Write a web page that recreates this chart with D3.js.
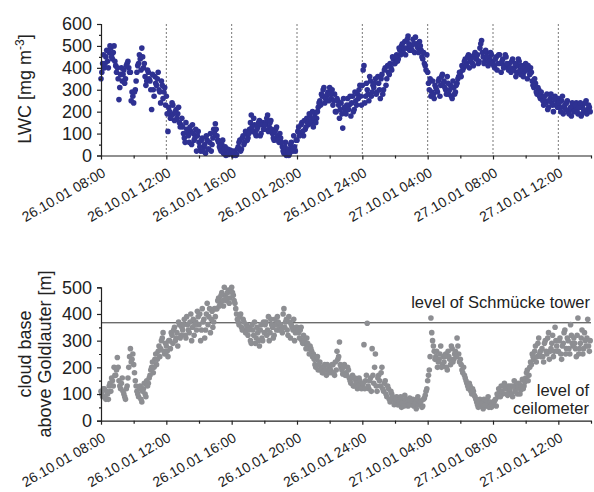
<!DOCTYPE html>
<html lang="en">
<head>
<meta charset="UTF-8">
<title>LWC and cloud base, 26.-27.10.01</title>
<script src="https://d3js.org/d3.v7.min.js"></script>
<style>
  body { margin: 0; background: #fff; }
  svg { font-family: "Liberation Sans", Arial, sans-serif; }
  .axis path, .axis line { stroke: #222; stroke-width: 1.2; }
  .axis text { fill: #222; }
  .ytick text { font-size: 18px; }
  .xtick text { font-size: 14px; }
  .title { font-size: 18px; fill: #222; }
  .note { font-size: 16.5px; fill: #222; }
</style>
</head>
<body>
<svg id="chart" width="594" height="492"></svg>
<script>
// each row holds one hour; set A sampled at :00, :06, ... and set B three minutes later
const sampleHours = [8, 9, 10, 11, 12, 13, 14, 15, 16, 17, 18, 19, 20, 21, 22,
                     23, 24, 25, 26, 27, 28, 29, 30, 31, 32, 33, 34, 35, 36, 37];

// liquid water content [mg m-3]
const lwcRowsA = [
  [350, 420, 400, 450, 430, 470, 490, 440, 500, 410],
  [400, 255, 370, 340, 390, 350, 420, 400, 380, 290],
  [240, 300, 380, 420, 440, 490, 400, 360, 340, 380],
  [340, 210, 300, 360, 320, 380, 290, 340, 260, 310],
  [270, 110, 200, 180, 230, 160, 210, 190, 150, 140],
  [130, 80, 150, 100, 60, 110, 140, 70, 120, 90],
  [60, 20, 80, 40, 10, 70, 30, 100, 50, 120],
  [145, 90, 60, 30, 50, 10, 40, 20, 5, 25],
  [10, 0, 20, 5, 40, 70, 30, 90, 60, 100],
  [80, 120, 185, 110, 140, 90, 130, 160, 100, 150],
  [120, 150, 185, 130, 160, 100, 70, 120, 90, 60],
  [80, 40, 10, 60, 20, 0, 50, 30, 90, 20],
  [70, 130, 100, 150, 90, 120, 170, 140, 180, 150],
  [130, 190, 170, 220, 250, 280, 300, 240, 270, 290],
  [310, 260, 230, 280, 200, 250, 170, 240, 125, 220],
  [190, 260, 230, 180, 270, 210, 250, 280, 300, 270],
  [320, 410, 270, 300, 250, 340, 290, 310, 350, 290],
  [330, 260, 370, 300, 400, 350, 380, 420, 390, 440],
  [420, 460, 440, 480, 500, 470, 520, 490, 545, 480],
  [500, 530, 470, 510, 490, 520, 480, 440, 420, 390],
  [380, 300, 270, 340, 260, 310, 290, 350, 320, 370],
  [340, 300, 360, 280, 320, 260, 310, 290, 330, 360],
  [380, 410, 400, 440, 420, 460, 430, 450, 410, 470],
  [440, 420, 490, 525, 450, 430, 470, 410, 440, 460],
  [430, 400, 450, 420, 460, 380, 440, 410, 450, 400],
  [420, 380, 440, 400, 360, 410, 430, 370, 400, 380],
  [420, 350, 390, 400, 340, 310, 330, 280, 300, 260],
  [270, 230, 250, 280, 220, 260, 240, 200, 270, 250],
  [260, 220, 250, 190, 230, 240, 200, 210, 180, 230],
  [210, 240, 190, 220, 180, 230, 200, 250, 210, 220]
];
const lwcRowsB = [
  [380, 460, 420, 480, 400, 500, 450, 470, 430, 380],
  [350, 310, 400, 370, 330, 410, 430, 380, 250, 270],
  [290, 340, 410, 460, 390, 450, 420, 320, 390, 350],
  [300, 370, 270, 330, 350, 300, 240, 320, 290, 230],
  [190, 220, 170, 240, 190, 200, 170, 220, 130, 170],
  [100, 60, 120, 90, 130, 50, 100, 80, 20, 110],
  [40, 70, 20, 50, 90, 30, 60, 20, 80, 100],
  [120, 70, 40, 20, 70, 30, 0, 30, 15, 10],
  [20, 10, 0, 30, 60, 20, 80, 50, 110, 70],
  [100, 150, 130, 170, 100, 120, 150, 90, 140, 120],
  [140, 170, 110, 150, 120, 80, 110, 130, 70, 100],
  [60, 20, 40, 0, 30, 10, 60, 20, 40, 70],
  [110, 90, 140, 110, 160, 130, 150, 190, 160, 200],
  [170, 150, 200, 240, 230, 270, 310, 260, 280, 250],
  [280, 300, 250, 200, 260, 230, 210, 190, 260, 200],
  [230, 210, 270, 240, 200, 290, 230, 260, 320, 230],
  [390, 240, 330, 280, 360, 270, 320, 330, 280, 360],
  [300, 350, 280, 390, 320, 410, 370, 400, 450, 420],
  [450, 430, 490, 460, 510, 490, 460, 530, 510, 500],
  [480, 510, 540, 500, 470, 500, 450, 470, 410, 460],
  [330, 350, 290, 280, 320, 300, 340, 270, 360, 330],
  [310, 280, 330, 300, 270, 340, 280, 320, 350, 380],
  [360, 390, 430, 410, 450, 400, 440, 420, 460, 440],
  [460, 430, 510, 470, 420, 480, 450, 430, 470, 420],
  [410, 440, 390, 460, 420, 430, 400, 460, 420, 390],
  [400, 430, 390, 420, 380, 440, 390, 410, 360, 400],
  [390, 410, 370, 380, 320, 350, 290, 310, 270, 290],
  [250, 270, 240, 210, 250, 280, 230, 260, 230, 220],
  [240, 200, 270, 220, 210, 250, 190, 220, 240, 200],
  [230, 200, 220, 240, 190, 210, 240, 190, 230, 200]
];

// cloud base above Goldlauter [m]
const baseRowsA = [
  [110, 90, 120, 80, 100, 130, 110, 150, 200, 170],
  [237, 150, 120, 160, 100, 80, 130, 200, 270, 230],
  [210, 150, 110, 90, 130, 70, 120, 100, 150, 140],
  [170, 200, 180, 230, 210, 260, 240, 300, 330, 250],
  [280, 240, 300, 330, 290, 350, 310, 280, 360, 320],
  [340, 380, 310, 360, 330, 400, 350, 320, 370, 410],
  [360, 300, 420, 380, 340, 440, 390, 330, 410, 370],
  [390, 420, 460, 440, 480, 430, 470, 450, 490, 460],
  [500, 470, 440, 400, 370, 390, 350, 380, 340, 360],
  [320, 350, 290, 340, 370, 310, 330, 280, 360, 300],
  [330, 370, 340, 300, 380, 350, 320, 360, 390, 340],
  [360, 330, 420, 370, 340, 390, 310, 350, 380, 330],
  [350, 330, 340, 300, 320, 290, 310, 270, 280, 260],
  [250, 210, 230, 190, 220, 200, 180, 210, 170, 190],
  [200, 180, 210, 170, 190, 230, 295, 200, 175, 210],
  [180, 200, 160, 140, 170, 130, 150, 120, 160, 140],
  [130, 285, 150, 365, 120, 160, 270, 140, 250, 110],
  [170, 130, 200, 110, 150, 90, 120, 70, 100, 80],
  [70, 90, 60, 80, 50, 75, 95, 65, 55, 85],
  [60, 80, 70, 45, 90, 65, 75, 55, 85, 110],
  [150, 190, 385, 300, 260, 240, 200, 230, 280, 210],
  [220, 250, 190, 240, 210, 270, 230, 260, 310, 250],
  [230, 190, 200, 160, 140, 120, 130, 100, 110, 90],
  [70, 50, 80, 60, 45, 75, 55, 90, 65, 50],
  [60, 75, 55, 90, 110, 130, 100, 140, 120, 95],
  [110, 130, 90, 150, 120, 100, 140, 115, 155, 130],
  [160, 190, 170, 220, 250, 230, 280, 240, 310, 260],
  [270, 220, 300, 250, 330, 260, 290, 240, 350, 280],
  [260, 310, 230, 290, 340, 270, 300, 250, 320, 280],
  [290, 240, 385, 270, 310, 250, 330, 280, 380, 260]
];
const baseRowsB = [
  [100, 120, 90, 110, 80, 140, 160, 130, 170, 190],
  [200, 130, 140, 110, 90, 120, 160, 240, 220, 250],
  [180, 130, 100, 120, 80, 110, 140, 90, 130, 160],
  [190, 220, 200, 250, 230, 280, 270, 310, 260, 290],
  [260, 300, 270, 320, 340, 300, 330, 370, 310, 350],
  [360, 320, 390, 340, 370, 300, 380, 360, 340, 390],
  [400, 340, 370, 310, 400, 360, 420, 380, 350, 420],
  [420, 450, 430, 470, 450, 500, 460, 480, 440, 490],
  [480, 450, 420, 380, 360, 400, 340, 370, 330, 350],
  [340, 300, 360, 320, 290, 350, 300, 340, 310, 370],
  [360, 320, 390, 330, 360, 310, 380, 340, 370, 350],
  [340, 400, 350, 380, 320, 370, 360, 340, 300, 350],
  [340, 310, 350, 290, 300, 270, 290, 250, 270, 240],
  [230, 200, 240, 210, 190, 180, 200, 190, 210, 180],
  [190, 210, 180, 220, 260, 240, 210, 190, 200, 170],
  [170, 190, 150, 160, 130, 160, 140, 130, 150, 120],
  [140, 120, 170, 130, 150, 110, 170, 200, 130, 160],
  [150, 180, 120, 140, 100, 130, 80, 110, 90, 60],
  [80, 60, 70, 90, 65, 55, 80, 70, 60, 75],
  [75, 55, 65, 80, 60, 70, 50, 80, 95, 120],
  [170, 240, 330, 280, 230, 260, 220, 250, 200, 240],
  [240, 200, 260, 230, 280, 220, 250, 240, 280, 220],
  [210, 180, 170, 150, 130, 140, 110, 120, 95, 80],
  [60, 70, 55, 65, 80, 60, 75, 50, 70, 60],
  [70, 80, 100, 120, 90, 110, 130, 120, 100, 130],
  [120, 100, 130, 110, 140, 125, 100, 130, 120, 145],
  [180, 150, 200, 210, 240, 260, 220, 290, 250, 240],
  [240, 290, 260, 310, 230, 270, 320, 260, 300, 260],
  [300, 250, 280, 330, 250, 310, 270, 360, 290, 310],
  [270, 320, 250, 290, 340, 270, 300, 310, 280, 300]
];

const tickHours = [8, 12, 16, 20, 24, 28, 32, 36];
const tickLabels = ["26.10.01 08:00", "26.10.01 12:00", "26.10.01 16:00", "26.10.01 20:00",
                    "26.10.01 24:00", "27.10.01 04:00", "27.10.01 08:00", "27.10.01 12:00"];
const minorHours = [10, 14, 18, 22, 26, 30, 34, 38];
const lwcTicks = [0, 100, 200, 300, 400, 500, 600];
const baseTicks = [0, 100, 200, 300, 400, 500];
const towerLevel = 367;

function toPoints(rows, offset) {
  const pts = [];
  rows.forEach((row, r) => row.forEach((v, i) => pts.push({ t: sampleHours[r] + offset + i / row.length, v: v })));
  return pts;
}
const lwcPoints = toPoints(lwcRowsA, 0).concat(toPoints(lwcRowsB, 0.05));
const basePoints = toPoints(baseRowsA, 0).concat(toPoints(baseRowsB, 0.05));

const svg = d3.select("#chart");

const x = d3.scaleLinear().domain([8, 38]).range([101, 591]);
const yTop = d3.scaleLinear().domain([0, 600]).range([155.5, 24]);
const yBot = d3.scaleLinear().domain([0, 500]).range([420.7, 287.3]);

// dotted hour lines in the upper panel
svg.append("g").selectAll("line")
  .data(tickHours.slice(1))
  .enter().append("line")
  .attr("x1", d => x(d)).attr("x2", d => x(d))
  .attr("y1", yTop(600)).attr("y2", yTop(0))
  .attr("stroke", "#555").attr("stroke-width", 0.8)
  .attr("stroke-dasharray", "2,2");

// tower level line
svg.append("line")
  .attr("x1", x(8)).attr("x2", x(38))
  .attr("y1", yBot(towerLevel)).attr("y2", yBot(towerLevel))
  .attr("stroke", "#333").attr("stroke-width", 1);

svg.append("g").selectAll("circle")
  .data(lwcPoints)
  .enter().append("circle")
  .attr("cx", d => x(d.t)).attr("cy", d => yTop(d.v))
  .attr("r", 2.8).attr("fill", "#2e3192");

svg.append("g").selectAll("circle")
  .data(basePoints)
  .enter().append("circle")
  .attr("cx", d => x(d.t)).attr("cy", d => yBot(d.v))
  .attr("r", 2.8).attr("fill", "#8d8e92");

function drawAxes(y, ticks, axisY) {
  const minor = ticks.slice(1).map(d => d - (ticks[1] - ticks[0]) / 2);
  svg.append("g").attr("class", "axis ytick").attr("transform", "translate(101,0)")
    .call(d3.axisLeft(y).tickValues(ticks).tickSize(4).tickPadding(5));
  svg.append("g").attr("class", "axis").attr("transform", "translate(101,0)")
    .call(d3.axisLeft(y).tickValues(minor).tickSize(2).tickFormat(""))
    .select(".domain").remove();

  const gx = svg.append("g").attr("class", "axis xtick").attr("transform", `translate(0,${axisY})`)
    .call(d3.axisBottom(x).tickValues(tickHours).tickSize(4).tickSizeOuter(0)
      .tickFormat((d, i) => tickLabels[i]));
  gx.selectAll("text")
    .attr("x", 5).attr("y", 20).attr("dy", 0)
    .attr("text-anchor", "end")
    .attr("transform", "rotate(-30 5 20)");
  svg.append("g").attr("class", "axis").attr("transform", `translate(0,${axisY})`)
    .call(d3.axisBottom(x).tickValues(minorHours).tickSize(3).tickFormat(""))
    .select(".domain").remove();
}
drawAxes(yTop, lwcTicks, 155.5);
drawAxes(yBot, baseTicks, 420.7);

// axis titles
const lwcTitle = svg.append("text").attr("class", "title")
  .attr("transform", "translate(31,89) rotate(-90)")
  .attr("text-anchor", "middle");
lwcTitle.append("tspan").text("LWC [mg m");
lwcTitle.append("tspan").attr("dy", -7).attr("font-size", "12px").text("-3");
lwcTitle.append("tspan").attr("dy", 7).text("]");

const baseTitle = svg.append("text").attr("class", "title")
  .attr("transform", "translate(31,354) rotate(-90)")
  .attr("text-anchor", "middle");
baseTitle.append("tspan").attr("x", 0).attr("y", 0).text("cloud base");
baseTitle.append("tspan").attr("x", 0).attr("y", 20).text("above Goldlauter [m]");

svg.append("text").attr("class", "note")
  .attr("x", 590).attr("y", 308).attr("text-anchor", "end")
  .text("level of Schmücke tower");
svg.append("text").attr("class", "note")
  .attr("x", 589).attr("y", 396).attr("text-anchor", "end")
  .text("level of");
svg.append("text").attr("class", "note")
  .attr("x", 589).attr("y", 414).attr("text-anchor", "end")
  .text("ceilometer");
</script>
</body>
</html>
